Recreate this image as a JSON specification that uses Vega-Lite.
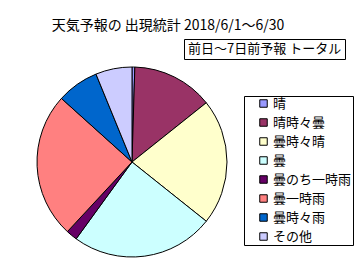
{
  "$schema": "https://vega.github.io/schema/vega-lite/v6.json",
  "width": 358,
  "height": 267,
  "autosize": {"type": "none"},
  "padding": 0,
  "background": "white",
  "title": {"text": "天気予報の 出現統計 2018/6/1～6/30", "fontSize": 14, "fontWeight": "normal", "font": "Noto Sans CJK JP", "color": "black", "anchor": "middle", "offset": -33, "dx": -11},
  "config": {"view": {"stroke": "black", "strokeWidth": 2}, "font": "Noto Sans CJK JP"},
  "layer": [
    {
      "data": {"values": [
        {"idx": 1, "weather": "晴", "count": 1},
        {"idx": 2, "weather": "晴時々曇", "count": 29},
        {"idx": 3, "weather": "曇時々晴", "count": 45},
        {"idx": 4, "weather": "曇", "count": 51},
        {"idx": 5, "weather": "曇のち一時雨", "count": 4},
        {"idx": 6, "weather": "曇一時雨", "count": 52},
        {"idx": 7, "weather": "曇時々雨", "count": 15},
        {"idx": 8, "weather": "その他", "count": 13}
      ]},
      "mark": {"type": "arc", "outerRadius": 95, "stroke": "black", "strokeWidth": 1, "x": 132, "y": 162},
      "encoding": {
        "theta": {"field": "count", "type": "quantitative", "stack": true},
        "order": {"field": "idx", "type": "quantitative"},
        "color": {
          "field": "weather", "type": "nominal",
          "scale": {"domain": ["晴", "晴時々曇", "曇時々晴", "曇", "曇のち一時雨", "曇一時雨", "曇時々雨", "その他"],
                    "range": ["#9999FF", "#993366", "#FFFFCC", "#CCFFFF", "#660066", "#FF8080", "#0066CC", "#CCCCFF"]},
          "legend": {"orient": "none", "legendX": 244, "legendY": 96, "title": null, "strokeColor": "black", "fillColor": "white", "padding": 1, "rowPadding": 5.0, "symbolType": "square", "symbolSize": 56, "symbolStrokeColor": "black", "symbolStrokeWidth": 1, "symbolOffset": 12, "labelOffset": 3, "labelFontSize": 13, "labelColor": "black", "labelFont": "Noto Sans CJK JP"}
        }
      }
    },
    {
      "data": {"values": [{"note": "前日～7日前予報 トータル"}]},
      "mark": {"type": "point", "opacity": 0},
      "encoding": {
        "shape": {"field": "note", "type": "nominal",
          "legend": {"orient": "none", "legendX": 184, "legendY": 39, "title": null, "strokeColor": "black", "fillColor": "white", "padding": 3, "symbolSize": 0, "symbolOpacity": 0, "symbolStrokeWidth": 0, "labelOffset": -12, "labelFontSize": 13, "labelLimit": 300, "labelColor": "black", "labelFont": "Noto Sans CJK JP"}}
      }
    }
  ]
}
